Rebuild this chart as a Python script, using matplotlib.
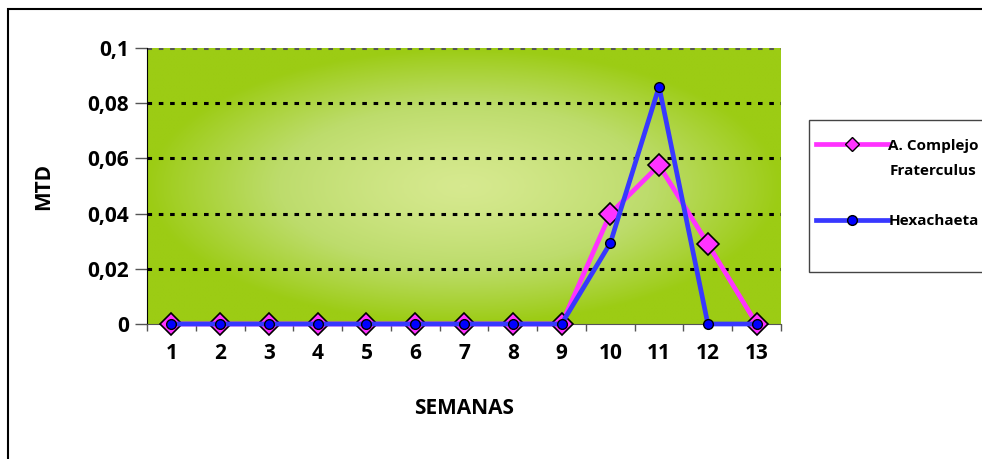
import numpy as np
import matplotlib
matplotlib.use("Agg")
import matplotlib.pyplot as plt
from matplotlib.colors import LinearSegmentedColormap
from matplotlib.lines import Line2D
from matplotlib.patches import Rectangle

plt.rcParams['font.family'] = ['Open Sans', 'DejaVu Sans']
plt.rcParams['font.weight'] = 'bold'

semanas = [1, 2, 3, 4, 5, 6, 7, 8, 9, 10, 11, 12, 13]
fraterculus = [0, 0, 0, 0, 0, 0, 0, 0, 0, 0.04, 0.0575, 0.029, 0]
hexachaeta = [0, 0, 0, 0, 0, 0, 0, 0, 0, 0.0293, 0.086, 0, 0]
y_ticks = [0, 0.02, 0.04, 0.06, 0.08, 0.1]
y_labels = ['0', '0,02', '0,04', '0,06', '0,08', '0,1']
serie_labels = ['A. Complejo', 'Hexachaeta']
label_extra = 'Fraterculus'

pink = '#ff33ff'
blue = '#3838ff'

fig = plt.figure(figsize=(9.82, 4.59), dpi=100)
ax = fig.add_axes([147 / 982, 1 - 324 / 459, 634 / 982, 276 / 459])

# gradient background (light center, darker edges)
gx, gy = np.meshgrid(np.linspace(-1, 1, 400), np.linspace(-1, 1, 200))
t = np.clip(np.sqrt(gx ** 2 + gy ** 2), 0, 1) ** 1.3
cmap = LinearSegmentedColormap.from_list('g', ['#d6e98f', '#bddc6c', '#9ccc14'])
ax.imshow(t, cmap=cmap, extent=[0.5, 13.5, 0, 0.1], aspect='auto',
          zorder=0, interpolation='bilinear')

for yv in y_ticks[1:]:
    col = '#555555' if yv == 0.1 else 'black'
    ax.axhline(yv, color=col, lw=2.2, ls=(0, (1.5, 2.2)), zorder=1)

ax.plot(semanas, fraterculus, color=pink, lw=3.4, marker='D', ms=11,
        mfc=pink, mec='black', mew=1.2, zorder=3, clip_on=False)
ax.plot(semanas, hexachaeta, color=blue, lw=3.4, marker='o', ms=7,
        mfc='#0000ff', mec='black', mew=1.0, zorder=4, clip_on=False)

ax.set_xlim(0.5, 13.5)
ax.set_ylim(0, 0.1)
ax.set_yticks(y_ticks)
ax.set_yticklabels(y_labels, fontsize=15, fontweight='bold')
ax.set_xticks(semanas)
ax.set_xticklabels([str(s) for s in semanas], fontsize=15, fontweight='bold')
ax.set_xticks(np.arange(0.5, 14, 1), minor=True)
ax.tick_params(axis='x', which='major', length=0, pad=14)
ax.tick_params(axis='x', which='minor', length=5, color='#555555', width=1)
ax.tick_params(axis='y', length=9, color='#555555', width=1, pad=4)

for s in ['top', 'right']:
    ax.spines[s].set_visible(False)
ax.spines['left'].set_color('black')
ax.spines['bottom'].set_color('#555555')

ax.set_xlabel('SEMANAS', fontsize=15, fontweight='bold', labelpad=24)
ax.set_ylabel('MTD', fontsize=15, fontweight='bold', labelpad=24)

# figure border
fig.patches.append(Rectangle((8 / 982, -0.1), 1.2, 1.1 - 9 / 459,
                             transform=fig.transFigure, fill=False,
                             ec='black', lw=1.5))

# legend box
fig.patches.append(Rectangle((809 / 982, 1 - 272 / 459), 1.0, 152 / 459,
                             transform=fig.transFigure, fill=True, fc='white',
                             ec='#444444', lw=1))
handles = [Line2D([], [], color=pink, lw=3.4, marker='D', ms=7, mfc=pink,
                  mec='black', mew=1.0),
           Line2D([], [], color=blue, lw=3.4, marker='o', ms=7, mfc='#0000ff',
                  mec='black', mew=1.0)]
leg = fig.legend(handles, serie_labels, loc='upper left',
                 bbox_to_anchor=(802 / 982, 1 - 125 / 459), frameon=False,
                 prop={'size': 11, 'weight': 'bold'}, handlelength=4.7,
                 handletextpad=0.05, labelspacing=4.0)
fig.text(890 / 982, 1 - 171 / 459, label_extra, fontsize=11,
         fontweight='bold', va='center', ha='left')

fig.savefig('out.png', dpi=100)
